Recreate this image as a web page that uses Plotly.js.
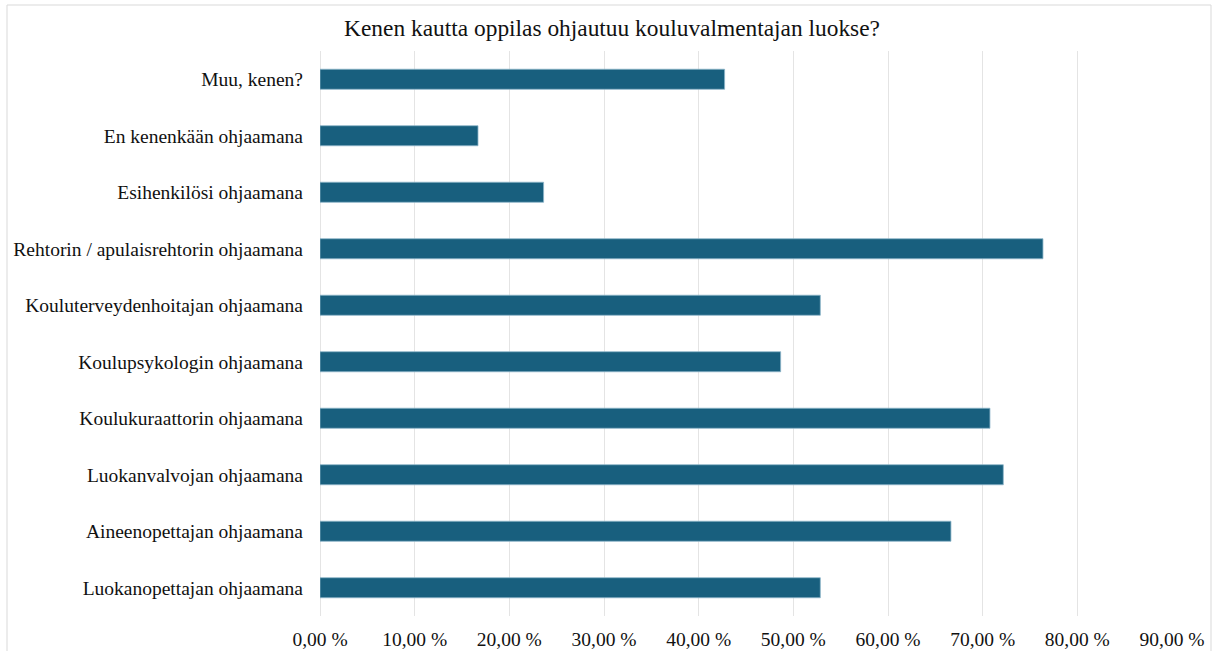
<!DOCTYPE html>
<html>
<head>
<meta charset="utf-8">
<script src="https://cdn.plot.ly/plotly-3.0.1.min.js"></script>
<style>
html,body{margin:0;padding:0;background:#fff;}
#chart{width:1212px;height:651px;}
</style>
</head>
<body>
<div id="chart"></div>
<script>
const categories = [
  "Luokanopettajan ohjaamana",
  "Aineenopettajan ohjaamana",
  "Luokanvalvojan ohjaamana",
  "Koulukuraattorin ohjaamana",
  "Koulupsykologin ohjaamana",
  "Kouluterveydenhoitajan ohjaamana",
  "Rehtorin / apulaisrehtorin ohjaamana",
  "Esihenkilösi ohjaamana",
  "En kenenkään ohjaamana",
  "Muu, kenen?"
];
const values = [52.85, 66.65, 72.18, 70.77, 48.66, 52.85, 76.37, 23.62, 16.69, 42.74];
const xTickVals = [0, 10, 20, 30, 40, 50, 60, 70, 80, 90];
const xTickText = ["0,00 %", "10,00 %", "20,00 %", "30,00 %", "40,00 %", "50,00 %", "60,00 %", "70,00 %", "80,00 %", "90,00 %"];
const chartTitle = "Kenen kautta oppilas ohjautuu kouluvalmentajan luokse?";

const W = 1212, H = 651;
const m = {l: 320, r: 40, t: 51, b: 35, pad: 0};
const pw = W - m.l - m.r, ph = H - m.t - m.b;
const serif = "Liberation Serif, Times New Roman, serif";

const trace = {
  type: "bar",
  orientation: "h",
  y: categories,
  x: values,
  marker: {color: "#185f7e", line: {color: "#8db5c9", width: 0.8}},
  hoverinfo: "x+y"
};

const layout = {
  width: W, height: H,
  margin: m,
  paper_bgcolor: "#ffffff",
  plot_bgcolor: "#ffffff",
  bargap: 0.645,
  showlegend: false,
  title: {
    text: chartTitle,
    font: {family: serif, size: 23.4, color: "#111"},
    x: 0.505, xanchor: "center",
    y: 1 - 28 / H, yanchor: "middle"
  },
  xaxis: {
    range: [0, 90],
    tickmode: "array",
    tickvals: xTickVals,
    ticktext: xTickText,
    showgrid: true,
    gridcolor: "#e4e4e4",
    gridwidth: 1,
    zeroline: true,
    zerolinecolor: "#e4e4e4",
    zerolinewidth: 1,
    showline: false,
    ticks: "",
    ticklabelstandoff: 9,
    tickfont: {family: serif, size: 19.5, color: "#111"},
    fixedrange: true
  },
  yaxis: {
    type: "category",
    categoryorder: "array",
    categoryarray: categories,
    showgrid: false,
    zeroline: false,
    showline: false,
    ticks: "",
    ticklabelstandoff: 16,
    tickfont: {family: serif, size: 19.5, color: "#111"},
    fixedrange: true
  },
  shapes: [{
    type: "rect",
    xref: "paper", yref: "paper",
    x0: (7 - m.l) / pw, x1: (1211 - m.l) / pw,
    y0: -1, y1: 1 + (m.t - 5) / ph,
    line: {color: "#d9d9d9", width: 1},
    fillcolor: "rgba(0,0,0,0)",
    layer: "below"
  }]
};

Plotly.newPlot("chart", [trace], layout, {displayModeBar: false, staticPlot: true});
</script>
</body>
</html>
